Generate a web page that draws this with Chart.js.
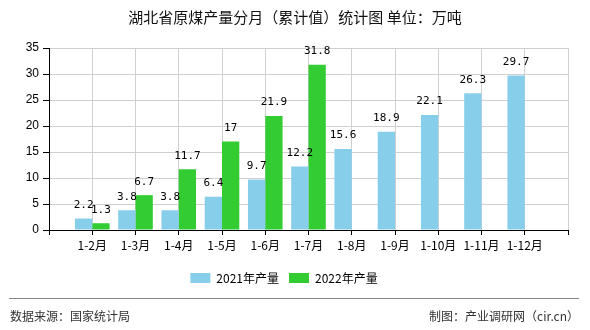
<!DOCTYPE html>
<html>
<head>
<meta charset="utf-8">
<script src="https://cdn.jsdelivr.net/npm/chart.js@4"></script>
<style>
  html, body { margin: 0; padding: 0; background: #fff; }
  #wrap { width: 590px; height: 330px; position: relative; }
</style>
</head>
<body>
<div id="wrap"><canvas id="coalChart"></canvas></div>
<script>
// 月份（累计）
const categories = ["1-2月", "1-3月", "1-4月", "1-5月", "1-6月", "1-7月", "1-8月", "1-9月", "1-10月", "1-11月", "1-12月"];
// 原煤产量，万吨
const output2021 = [2.2, 3.8, 3.8, 6.4, 9.7, 12.2, 15.6, 18.9, 22.1, 26.3, 29.7];
const output2022 = [1.3, 6.7, 11.7, 17, 21.9, 31.8, null, null, null, null, null];
const yTicks = [0, 5, 10, 15, 20, 25, 30, 35];

const titleText = "湖北省原煤产量分月（累计值）统计图 单位：万吨";
const sourceText = "数据来源：国家统计局";
const makerText = "制图：产业调研网（cir.cn）";

const cjk = '"Noto Sans CJK SC", "Liberation Sans", sans-serif';

// 两端各空出一格，柱子落在刻度上
const labels = [""].concat(categories, [""]);
const pad = arr => [null].concat(arr, [null]);

// 柱顶数值
const valueLabels = {
  id: "valueLabels",
  afterDatasetsDraw(chart) {
    const ctx = chart.ctx;
    ctx.save();
    ctx.font = '11px "DejaVu Sans Mono", monospace';
    ctx.fillStyle = "#000";
    ctx.textAlign = "center";
    ctx.textBaseline = "bottom";
    chart.data.datasets.forEach((ds, i) => {
      chart.getDatasetMeta(i).data.forEach((bar, j) => {
        const v = ds.data[j];
        if (v === null || v === undefined) return;
        ctx.fillText(String(v), bar.x, bar.y - 8);
      });
    });
    ctx.restore();
  }
};

// 标题和底部来源
const frame = {
  id: "frame",
  afterDraw(chart) {
    const ctx = chart.ctx;
    ctx.save();
    ctx.fillStyle = "#111";
    ctx.font = "15px " + cjk;
    ctx.textAlign = "center";
    ctx.textBaseline = "middle";
    ctx.fillText(titleText, 295, 17);

    ctx.strokeStyle = "#888";
    ctx.lineWidth = 1;
    ctx.beginPath();
    ctx.moveTo(9, 298.5);
    ctx.lineTo(579, 298.5);
    ctx.stroke();

    ctx.fillStyle = "#333";
    ctx.font = "12px " + cjk;
    ctx.textAlign = "left";
    ctx.fillText(sourceText, 10, 316);
    ctx.textAlign = "right";
    ctx.fillText(makerText, 579, 316);
    ctx.restore();
  }
};

new Chart(document.getElementById("coalChart"), {
  type: "bar",
  data: {
    labels: labels,
    datasets: [
      { label: "2021年产量", data: pad(output2021), backgroundColor: "#87CEEB" },
      { label: "2022年产量", data: pad(output2022), backgroundColor: "#33CC33" }
    ]
  },
  options: {
    responsive: true,
    maintainAspectRatio: false,
    animation: false,
    devicePixelRatio: 1,
    categoryPercentage: 0.8,
    barPercentage: 1.0,
    layout: { padding: { left: 0, right: 22, top: 48, bottom: 36 } },
    plugins: {
      title: { display: false },
      tooltip: { enabled: false },
      legend: {
        position: "bottom",
        labels: {
          boxWidth: 20,
          boxHeight: 10,
          padding: 10,
          color: "#000",
          font: { size: 12, family: cjk }
        }
      }
    },
    scales: {
      x: {
        offset: false,
        grid: { color: "#d0d0d0", tickColor: "#000", tickLength: 5, offset: false },
        border: { color: "#000", width: 1 },
        ticks: { color: "#000", padding: 3, maxRotation: 0, autoSkip: false, font: { size: 12, family: cjk } },
        afterFit(scale) { scale.height = 32; }
      },
      y: {
        min: 0,
        max: 35,
        afterBuildTicks(scale) { scale.ticks = yTicks.map(v => ({ value: v })); },
        grid: { color: "#d0d0d0", tickColor: "#000", tickLength: 6 },
        border: { color: "#000", width: 1 },
        ticks: { color: "#000", padding: 4, font: { size: 12, family: '"Liberation Sans", sans-serif' } },
        afterFit(scale) { scale.width = 49; }
      }
    }
  },
  plugins: [valueLabels, frame]
});
</script>
</body>
</html>
